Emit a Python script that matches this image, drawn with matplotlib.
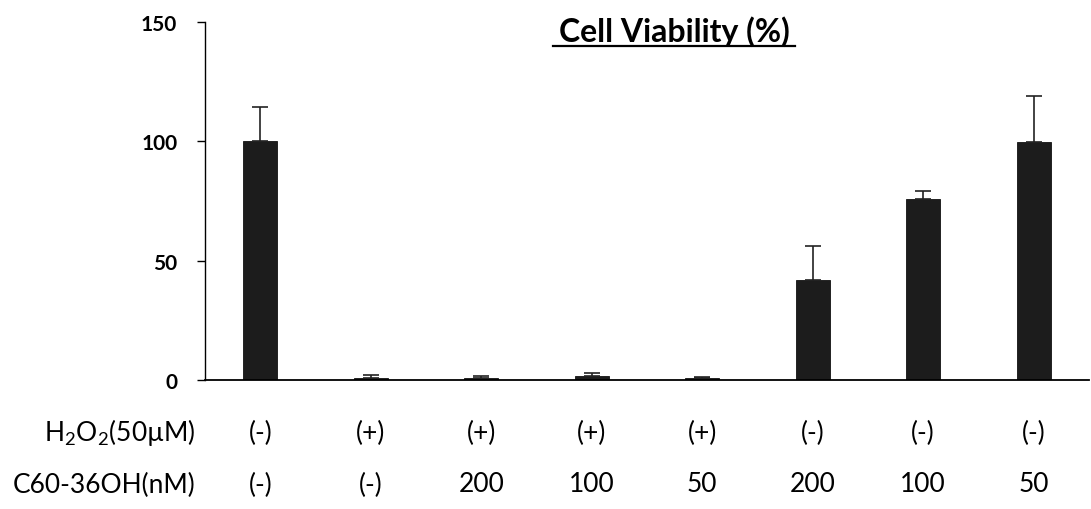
import matplotlib
matplotlib.use('Agg')
import matplotlib.pyplot as plt
import numpy as np

plt.rcParams['font.family'] = ['Lato', 'DejaVu Sans']
plt.rcParams['mathtext.fontset'] = 'custom'
plt.rcParams['mathtext.rm'] = 'Lato'

# data
viability = [100, 1.0, 1.0, 1.5, 0.7, 42, 76, 99.7]
err_up = [14.5, 1.0, 0.6, 1.5, 0.6, 14, 3, 19.5]
h2o2 = ['(-)', '(+)', '(+)', '(+)', '(+)', '(-)', '(-)', '(-)']
c60 = ['(-)', '(-)', '200', '100', '50', '200', '100', '50']
yticks = [0, 50, 100, 150]

W, H = 1091, 510
fig = plt.figure(figsize=(W / 100, H / 100), dpi=100)
ax = fig.add_axes([205 / W, 1 - 381 / H, (1089 - 205) / W, (381 - 23) / H])
x = np.arange(len(viability))
ax.bar(x, viability, width=0.31, color='#1c1c1c', edgecolor='#111111', lw=0.6, zorder=2)
ax.errorbar(x, viability, yerr=[np.zeros(len(err_up)), err_up], fmt='none',
            ecolor='#222222', elinewidth=1.2, capsize=6, capthick=1.2, zorder=3)

ax.set_xlim(-0.5, 7.5)
ax.set_ylim(0, 150)
ax.set_yticks(yticks)
ax.set_yticklabels([str(t) for t in yticks], fontsize=15, fontweight='bold')
ax.set_xticks([])
for s in ['top', 'right']:
    ax.spines[s].set_visible(False)
ax.spines['left'].set_linewidth(1.0)
ax.spines['bottom'].set_linewidth(1.3)
ax.tick_params(axis='y', direction='out', length=6, width=1.0, pad=14)

# title, underlined
fig.text(674 / W, 1 - 42 / H, 'Cell Viability (%)', ha='center', va='baseline',
         fontsize=23, fontweight='bold')
fig.add_artist(plt.Line2D([553 / W, 795 / W], [1 - 47 / H, 1 - 47 / H], color='black',
                          lw=1.6, transform=fig.transFigure))

# condition rows under the axis
row_y = [1 - 433 / H, 1 - 485 / H]
fig.text(196 / W, row_y[0], r'H$_2$O$_2$(50µM)', ha='right', va='center', fontsize=19)
fig.text(196 / W, row_y[1], 'C60-36OH(nM)', ha='right', va='center', fontsize=19)
row_tr = matplotlib.transforms.blended_transform_factory(ax.transData, fig.transFigure)
for i in range(len(x)):
    ax.text(x[i], row_y[0], h2o2[i], transform=row_tr, ha='center', va='center', fontsize=19)
    ax.text(x[i], row_y[1], c60[i], transform=row_tr, ha='center', va='center', fontsize=19)

fig.savefig('out.png', dpi=100, facecolor='white')
